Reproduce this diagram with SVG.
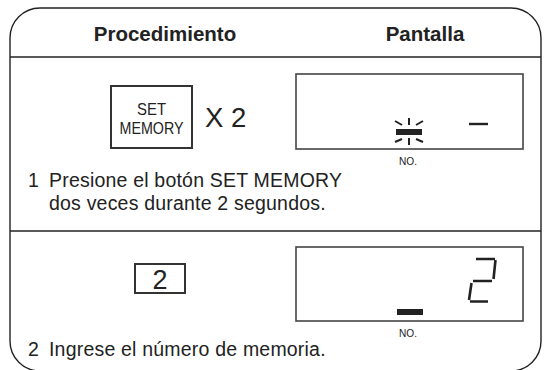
<svg xmlns="http://www.w3.org/2000/svg" width="549" height="370" viewBox="0 0 549 370">
<style>
.frame{fill:none;stroke:#222;stroke-width:1.4}
.rule{stroke:#222;stroke-width:1.4}
.disp{fill:#fff;stroke:#444;stroke-width:1.6}
.key{fill:#fff;stroke:#333;stroke-width:2}
.hdr{font-family:"Liberation Sans",Arial,sans-serif;font-weight:bold;font-size:20.5px;fill:#222}
.body{font-family:"Liberation Sans",Arial,sans-serif;font-size:19.5px;fill:#222;letter-spacing:0.2px}
.cond{font-family:"Liberation Sans",Arial,sans-serif;fill:#222}
.seg{stroke:#222;stroke-width:2.6;fill:none}
.ray{stroke:#222;stroke-width:2;fill:none}
</style>
<rect width="549" height="370" fill="#fff"/>
<g id="frame">
<rect class="frame" x="10" y="8" width="531" height="363" rx="30" ry="30"/>
</g>
<g id="connectors">
<line class="rule" x1="10" y1="57" x2="541" y2="57"/>
<line class="rule" x1="10" y1="231" x2="541" y2="231"/>
</g>
<g id="header">
<text class="hdr" x="165" y="41" text-anchor="middle">Procedimiento</text>
<text class="hdr" x="425" y="41" text-anchor="middle">Pantalla</text>
</g>
<g id="step1-key">
<rect class="key" x="111" y="86" width="81" height="62"/>
<text class="cond" x="151.5" y="115" font-size="16.5" text-anchor="middle" textLength="29" lengthAdjust="spacingAndGlyphs">SET</text>
<text class="cond" x="151.5" y="134" font-size="16.5" text-anchor="middle" textLength="64" lengthAdjust="spacingAndGlyphs">MEMORY</text>
<text class="cond" x="205" y="127" font-size="27.5">X 2</text>
</g>
<g id="step1-display">
<rect class="disp" x="296" y="74" width="227" height="75"/>
<rect x="396" y="129" width="26" height="6" fill="#222"/>
<line class="ray" x1="409" y1="118" x2="409" y2="125"/>
<line class="ray" x1="395" y1="121" x2="402" y2="125"/>
<line class="ray" x1="423" y1="121" x2="416" y2="125"/>
<line class="ray" x1="409" y1="138" x2="409" y2="145"/>
<line class="ray" x1="395" y1="142" x2="402" y2="139"/>
<line class="ray" x1="423" y1="142" x2="416" y2="139"/>
<line x1="469" y1="124" x2="488" y2="124" stroke="#222" stroke-width="2.4"/>
<text class="cond" x="408" y="165" font-size="11.5" text-anchor="middle" textLength="18" lengthAdjust="spacingAndGlyphs">NO.</text>
</g>
<g id="step1-text">
<text class="body" x="28" y="187">1</text>
<text class="body" x="49" y="187">Presione el botón SET MEMORY</text>
<text class="body" x="49" y="210">dos veces durante 2 segundos.</text>
</g>
<g id="step2-key">
<rect class="key" x="135" y="264" width="50" height="29" stroke-width="1.6"/>
<text class="cond" x="160" y="289" font-size="27" text-anchor="middle">2</text>
</g>
<g id="step2-display">
<rect class="disp" x="296" y="247" width="227" height="74"/>
<rect x="397" y="309" width="26" height="6" fill="#222"/>
<path class="seg" d="M476 259 H495 M495.5 260 L493.5 279 M473 281 H492 M471.5 283 L469 300 M470 301.5 H488"/>
<text class="cond" x="408" y="337" font-size="11.5" text-anchor="middle" textLength="18" lengthAdjust="spacingAndGlyphs">NO.</text>
</g>
<g id="step2-text">
<text class="body" x="28" y="356">2</text>
<text class="body" x="49" y="356">Ingrese el número de memoria.</text>
</g>
</svg>
